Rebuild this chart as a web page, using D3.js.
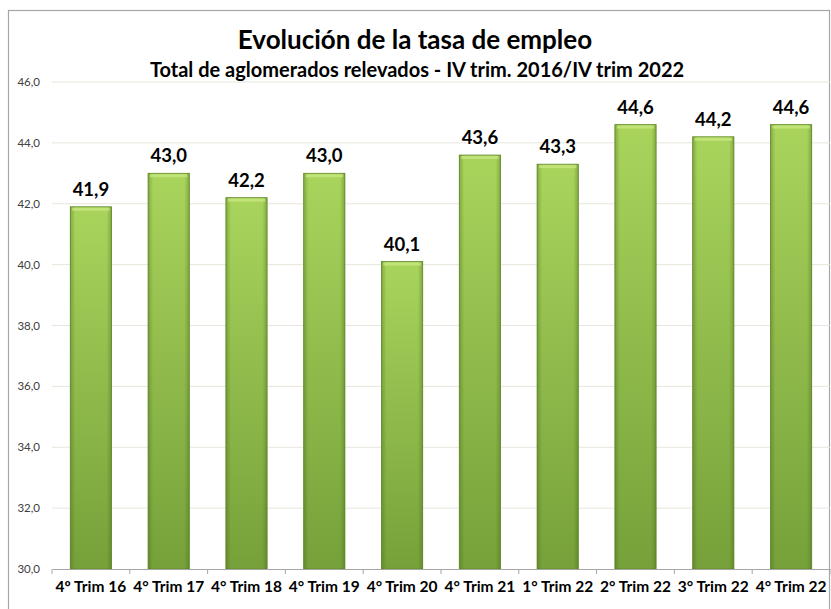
<!DOCTYPE html>
<html>
<head>
<meta charset="utf-8">
<script src="https://cdn.jsdelivr.net/npm/d3@7"></script>
<style>
  body { margin: 0; background: #fff; }
  text { font-family: Lato, "Open Sans", sans-serif; }
</style>
</head>
<body>
<div id="container"></div>
<script>
var categories = ["4º Trim 16", "4° Trim 17", "4° Trim 18", "4° Trim 19", "4° Trim 20",
                  "4° Trim 21", "1° Trim 22", "2° Trim 22", "3° Trim 22", "4° Trim 22"];
var values = [41.9, 43.0, 42.2, 43.0, 40.1, 43.6, 43.3, 44.6, 44.2, 44.6];
var yTicks = [30, 32, 34, 36, 38, 40, 42, 44, 46];

var W = 831, H = 609;
var margin = {top: 82, right: 1, bottom: 40, left: 52};
var width = W - margin.left - margin.right;
var height = 569 - margin.top;

var fmt = d => d.toFixed(1).replace(".", ",");

var svgRoot = d3.select("#container").append("svg")
    .attr("width", W).attr("height", H);

// gradients for the bevelled bars
var defs = svgRoot.append("defs");
var gv = defs.append("linearGradient").attr("id", "barV")
    .attr("x1", 0).attr("y1", 0).attr("x2", 0).attr("y2", 1);
gv.append("stop").attr("offset", "0%").attr("stop-color", "#a9d45c");
gv.append("stop").attr("offset", "100%").attr("stop-color", "#76a13a");
var gh = defs.append("linearGradient").attr("id", "barH")
    .attr("x1", 0).attr("y1", 0).attr("x2", 1).attr("y2", 0);
gh.append("stop").attr("offset", "0%").attr("stop-color", "#3f5f14").attr("stop-opacity", 0.35);
gh.append("stop").attr("offset", "12%").attr("stop-color", "#3f5f14").attr("stop-opacity", 0);
gh.append("stop").attr("offset", "88%").attr("stop-color", "#3f5f14").attr("stop-opacity", 0);
gh.append("stop").attr("offset", "100%").attr("stop-color", "#3f5f14").attr("stop-opacity", 0.35);

// outer frame
svgRoot.append("rect")
    .attr("x", 8.5).attr("y", 10.5).attr("width", 821).attr("height", 620)
    .attr("fill", "#fff").attr("stroke", "#a6a6a6").attr("stroke-width", 1.2);

svgRoot.append("text")
    .attr("x", 415).attr("y", 49)
    .attr("text-anchor", "middle")
    .style("font-size", "26px").style("font-weight", "bold").attr("fill", "#000")
    .text("Evolución de la tasa de empleo");

svgRoot.append("text")
    .attr("x", 417).attr("y", 77)
    .attr("text-anchor", "middle")
    .style("font-size", "20px").style("font-weight", "bold").attr("fill", "#000")
    .text("Total de aglomerados relevados - IV trim. 2016/IV trim 2022");

var svg = svgRoot.append("g")
    .attr("transform", "translate(" + margin.left + "," + margin.top + ")");

var x = d3.scaleBand().domain(categories).range([0, width]).paddingInner(0.47).paddingOuter(0.235);
var xb = d3.scaleBand().domain(categories).range([0, width]);
var y = d3.scaleLinear().domain([30, 46]).range([height, 0]);

// gridlines
svg.append("g")
    .selectAll("line")
    .data(yTicks.filter(t => t > 30))
    .join("line")
    .attr("x1", 0).attr("x2", width)
    .attr("y1", d => y(d)).attr("y2", d => y(d))
    .attr("stroke", "#e6e6dc").attr("stroke-width", 1);

// y labels
svg.append("g")
    .selectAll("text")
    .data(yTicks)
    .join("text")
    .attr("x", -12).attr("y", d => y(d) + 4)
    .attr("text-anchor", "end")
    .style("font-size", "11.5px").attr("fill", "#404040")
    .text(fmt);

// bars
var bars = svg.append("g").selectAll("g").data(values).join("g");
bars.append("rect")
    .attr("x", (d, i) => x(categories[i]))
    .attr("y", d => y(d))
    .attr("width", x.bandwidth())
    .attr("height", d => y(30) - y(d))
    .attr("fill", "url(#barV)")
    .attr("stroke", "#5f8a28").attr("stroke-width", 0.8);
bars.append("rect")
    .attr("x", (d, i) => x(categories[i]))
    .attr("y", d => y(d))
    .attr("width", x.bandwidth())
    .attr("height", d => y(30) - y(d))
    .attr("fill", "url(#barH)");
bars.append("rect")
    .attr("x", (d, i) => x(categories[i]) + 2)
    .attr("y", d => y(d) + 1)
    .attr("width", x.bandwidth() - 4)
    .attr("height", 3)
    .attr("fill", "#c7e67f").attr("opacity", 0.8);

// value labels
svg.append("g")
    .selectAll("text")
    .data(values)
    .join("text")
    .attr("x", (d, i) => x(categories[i]) + x.bandwidth() / 2)
    .attr("y", d => y(d) - 11)
    .attr("text-anchor", "middle")
    .style("font-size", "18.5px").style("font-weight", "bold").attr("fill", "#000")
    .text(fmt);

// x axis
var xAxis = svg.append("g")
    .attr("transform", "translate(0," + height + ")")
    .call(d3.axisBottom(xb).tickSize(0).tickPadding(12));
xAxis.select(".domain").attr("stroke", "#a6a6a6");
xAxis.selectAll(".tick text")
    .style("font-size", "15.5px").style("font-weight", "bold")
    .style("font-family", "Lato, 'Open Sans', sans-serif").attr("fill", "#000");
svg.append("g")
    .selectAll("line")
    .data(categories.concat([null]))
    .join("line")
    .attr("x1", (d, i) => i * xb.step()).attr("x2", (d, i) => i * xb.step())
    .attr("y1", height).attr("y2", height + 5)
    .attr("stroke", "#a6a6a6");
</script>
</body>
</html>
